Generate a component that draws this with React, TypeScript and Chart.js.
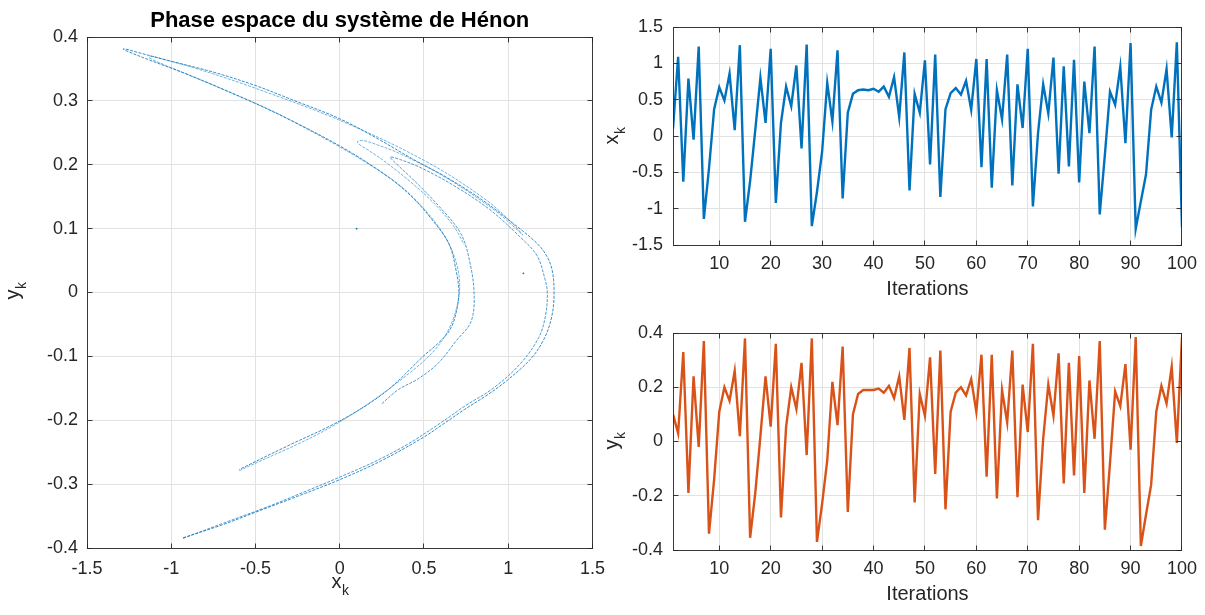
import { useEffect, useRef } from 'react';
import { Chart, registerables } from 'chart.js';

Chart.register(...registerables);

const FONT = '"Liberation Sans", Arial, Helvetica, sans-serif';
const TEXT = '#262626';
const GRID = '#e2e2e2';
const BLUE = '#0072BD';
const ORANGE = '#D95319';

// ---- Data ----
const iterations: number[] = Array.from({ length: 100 }, (_, i) => i + 1);

const xk: number[] = [
  0.1, 1.09, -0.63, 0.79, -0.05, 1.23, -1.14, -0.45, 0.37, 0.67,
  0.49, 0.86, 0.08, 1.25, -1.18, -0.62, 0.08, 0.8, 0.18, 1.2,
  -0.92, 0.18, 0.68, 0.41, 0.97, -0.17, 1.26, -1.24, -0.77, -0.22,
  0.73, 0.2, 1.18, -0.86, 0.32, 0.58, 0.63, 0.64, 0.63, 0.65,
  0.61, 0.68, 0.54, 0.81, 0.26, 1.15, -0.75, 0.58, 0.32, 1.04,
  -0.39, 1.12, -0.84, 0.37, 0.59, 0.66, 0.57, 0.76, 0.36, 1.06,
  -0.43, 1.06, -0.71, 0.63, 0.23, 1.12, -0.68, 0.71, 0.11, 1.2,
  -0.97, 0.04, 0.71, 0.31, 1.08, -0.52, 0.96, -0.42, 1.05, -0.64,
  0.75, 0.04, 1.23, -1.08, -0.26, 0.61, 0.43, 0.95, -0.1, 1.28,
  -1.28, -0.9, -0.53, 0.36, 0.68, 0.46, 0.92, -0.02, 1.29, -1.26,
];

const yk: number[] = [
  0.1, 0.03, 0.33, -0.19, 0.24, -0.02, 0.37, -0.34, -0.14, 0.11,
  0.2, 0.15, 0.26, 0.02, 0.38, -0.355, -0.19, 0.02, 0.24, 0.055,
  0.36, -0.28, 0.055, 0.2, 0.12, 0.29, -0.05, 0.38, -0.37, -0.23,
  -0.07, 0.22, 0.06, 0.35, -0.26, 0.1, 0.175, 0.19, 0.19, 0.19,
  0.195, 0.18, 0.205, 0.16, 0.24, 0.08, 0.345, -0.225, 0.175, 0.095,
  0.31, -0.12, 0.335, -0.25, 0.11, 0.18, 0.2, 0.17, 0.23, 0.11,
  0.32, -0.13, 0.32, -0.21, 0.19, 0.07, 0.335, -0.205, 0.21, 0.035,
  0.36, -0.29, 0.01, 0.21, 0.095, 0.325, -0.155, 0.29, -0.125, 0.315,
  -0.19, 0.225, 0.01, 0.37, -0.325, -0.08, 0.185, 0.13, 0.285, -0.03,
  0.385, -0.385, -0.27, -0.16, 0.11, 0.205, 0.14, 0.275, -0.005, 0.385,
];

// Strands of the attractor
const strandOuter: [number, number][] = [
  [-0.93, -0.384], [-0.7, -0.364], [-0.5, -0.344], [-0.25, -0.319], [0, -0.293],
  [0.25, -0.263], [0.495, -0.227], [0.603, -0.208], [0.741, -0.183], [0.878, -0.16],
  [0.996, -0.137], [1.133, -0.104], [1.212, -0.073], [1.258, -0.038], [1.272, 0],
  [1.258, 0.038], [1.212, 0.064], [1.15, 0.082], [1.035, 0.107], [0.84, 0.146],
  [0.623, 0.182], [0.426, 0.21], [0.23, 0.24], [0, 0.272], [-0.285, 0.302],
  [-0.5, 0.324], [-0.75, 0.345], [-1.0, 0.362], [-1.2, 0.376], [-1.27, 0.381],
  [-1.286, 0.381], [-1.254, 0.377], [-1.13, 0.364], [-0.9, 0.341], [-0.527, 0.299],
  [-0.24, 0.263], [0.049, 0.222], [0.287, 0.181], [0.431, 0.149], [0.56, 0.11],
  [0.65, 0.075], [0.69, 0.035], [0.707, 0], [0.685, -0.038], [0.65, -0.06],
  [0.594, -0.077], [0.495, -0.1], [0.306, -0.148], [0.15, -0.178], [-0.05, -0.208],
  [-0.3, -0.239], [-0.596, -0.277],
];

const strandInner: [number, number][] = [
  [-0.93, -0.385], [-0.7, -0.362], [-0.424, -0.335], [-0.2, -0.311], [0, -0.289],
  [0.206, -0.265], [0.4, -0.238], [0.6, -0.204], [0.741, -0.178], [0.91, -0.15],
  [1.07, -0.112], [1.182, -0.07], [1.222, -0.035], [1.232, 0], [1.219, 0.02],
  [1.17, 0.058], [1.066, 0.088], [0.889, 0.13], [0.68, 0.167], [0.4835, 0.195],
  [0.36, 0.208], [0.3, 0.212], [0.33, 0.203], [0.431, 0.178], [0.6, 0.132],
  [0.719, 0.092], [0.77, 0.05], [0.797, 0], [0.78, -0.045], [0.69, -0.076],
  [0.583, -0.111], [0.466, -0.135], [0.348, -0.152], [0.25, -0.174],
];

const strandThird: [number, number][] = [
  [-0.596, -0.279], [-0.048, -0.21], [0.41, -0.127], [0.62, -0.07], [0.71, 0],
  [0.672, 0.062], [0.536, 0.12], [0.294, 0.18], [-0.316, 0.273], [-0.718, 0.321],
  [-1.028, 0.355], [-1.131, 0.3675], [-1.125, 0.37], [-1.06, 0.366], [-0.856, 0.351],
  [-0.503, 0.32], [0.023, 0.267], [0.52, 0.204], [0.868, 0.145], [1.0365, 0.105],
  [1.086, 0.09], [1.05, 0.099], [0.918, 0.129], [0.629, 0.18], [0.368, 0.216],
  [0.215, 0.232], [0.135, 0.238], [0.105, 0.236], [0.125, 0.23], [0.1625, 0.224],
  [0.2575, 0.207], [0.412, 0.175], [0.558, 0.14], [0.6755, 0.104], [0.7385, 0.075],
];

// only the first (transient) iterates stand apart from the attractor in the picture
const transientCount = 2;

const phaseXTicks = [-1.5, -1, -0.5, 0, 0.5, 1, 1.5];
const phaseYTicks = [-0.4, -0.3, -0.2, -0.1, 0, 0.1, 0.2, 0.3, 0.4];
const iterTicks = [10, 20, 30, 40, 50, 60, 70, 80, 90, 100];
const xkTicks = [-1.5, -1, -0.5, 0, 0.5, 1, 1.5];
const ykTicks = [-0.4, -0.2, 0, 0.2, 0.4];

// ---- helpers ----
const fmt = (v: number) => String(Math.round(v * 100) / 100);
const al = (p: number) => Math.round(p - 0.5) + 0.5;

const framePlugin = {
  id: 'matlabFrame',
  afterDraw(chart: any) {
    const { ctx, chartArea: a, scales } = chart;
    const x = scales.x;
    const y = scales.y;
    ctx.save();
    ctx.strokeStyle = 'rgba(38,38,38,0.9)';
    ctx.lineWidth = 1;
    const L = al(a.left), R = al(a.right), T = al(a.top), B = al(a.bottom);
    ctx.strokeRect(L, T, R - L, B - T);
    const len = 5;
    ctx.beginPath();
    for (const t of x.ticks) {
      const px = al(x.getPixelForValue(t.value));
      ctx.moveTo(px, B); ctx.lineTo(px, B - len);
      ctx.moveTo(px, T); ctx.lineTo(px, T + len);
    }
    for (const t of y.ticks) {
      const py = al(y.getPixelForValue(t.value));
      ctx.moveTo(L, py); ctx.lineTo(L + len, py);
      ctx.moveTo(R, py); ctx.lineTo(R - len, py);
    }
    ctx.stroke();
    ctx.restore();
  },
};

type SubLabel = { base: string; sub: string; x: number; y: number; rotate?: boolean };

function subLabels(items: SubLabel[]) {
  return {
    id: 'subLabels',
    afterDraw(chart: any) {
      const ctx = chart.ctx as CanvasRenderingContext2D;
      for (const it of items) {
        ctx.save();
        ctx.fillStyle = TEXT;
        ctx.textBaseline = 'alphabetic';
        ctx.textAlign = 'left';
        const mainF = `20px ${FONT}`;
        const subF = `14px ${FONT}`;
        ctx.font = mainF;
        const w1 = ctx.measureText(it.base).width;
        ctx.font = subF;
        const w2 = ctx.measureText(it.sub).width;
        ctx.translate(it.x, it.y);
        if (it.rotate) ctx.rotate(-Math.PI / 2);
        const start = -(w1 + w2) / 2;
        ctx.font = mainF;
        ctx.fillText(it.base, start, 0);
        ctx.font = subF;
        ctx.fillText(it.sub, start + w1 + 0.5, 7);
        ctx.restore();
      }
    },
  };
}

function axis(min: number, max: number, ticks: number[], size: number, horizontal: boolean, pad: number, extra: any = {}) {
  return {
    type: 'linear',
    min,
    max,
    afterBuildTicks: (s: any) => {
      s.ticks = ticks.map((v) => ({ value: v }));
    },
    afterFit: (s: any) => {
      if (horizontal) s.height = size;
      else s.width = size;
    },
    grid: { color: GRID, lineWidth: 1, drawTicks: false },
    border: { display: false },
    ticks: {
      font: { family: FONT, size: 18 },
      color: TEXT,
      padding: pad,
      autoSkip: false,
      maxRotation: 0,
      minRotation: 0,
      callback: (v: number) => fmt(v),
    },
    ...extra,
  };
}

function strandSet(points: [number, number][], alpha: number) {
  return {
    data: points.map(([x, y]) => ({ x, y })),
    showLine: true,
    borderColor: `rgba(0,114,189,${alpha})`,
    borderWidth: 1,
    borderDash: [3, 1.3],
    pointRadius: 0,
    tension: 0.35,
    fill: false,
  };
}

function phaseConfig(): any {
  return {
    type: 'scatter',
    data: {
      datasets: [
        strandSet(strandOuter, 0.8),
        strandSet(strandInner, 0.7),
        strandSet(strandThird, 0.55),
        {
          data: xk.slice(0, transientCount).map((v, i) => ({ x: v, y: yk[i] })),
          showLine: false,
          pointRadius: 0.9,
          pointBorderWidth: 0,
          backgroundColor: BLUE,
        },
      ],
    },
    options: {
      animation: false,
      responsive: false,
      devicePixelRatio: 1,
      layout: { padding: { left: 0, right: 19, top: 0, bottom: 0 } },
      plugins: {
        legend: { display: false },
        tooltip: { enabled: false },
        title: {
          display: true,
          text: 'Phase espace du système de Hénon',
          color: '#000000',
          font: { family: FONT, size: 22, weight: 'bold' },
          padding: { top: 8, bottom: 2.6 },
          fullSize: false,
        },
      },
      scales: {
        x: axis(-1.5, 1.5, phaseXTicks, 67, true, 10),
        y: axis(-0.4, 0.4, phaseYTicks, 87, false, 9),
      },
    },
    plugins: [
      framePlugin,
      subLabels([
        { base: 'x', sub: 'k', x: 340, y: 588 },
        { base: 'y', sub: 'k', x: 18.5, y: 291, rotate: true },
      ]),
    ],
  };
}

function seriesConfig(values: number[], color: string, yMin: number, yMax: number, yTicks: number[], xAxisH: number, padTop: number, titlePadB: number, yName: string): any {
  return {
    type: 'scatter',
    data: {
      datasets: [
        {
          data: iterations.map((k, i) => ({ x: k, y: values[i] })),
          showLine: true,
          borderColor: color,
          borderWidth: 2.4,
          pointRadius: 0,
          tension: 0,
          fill: false,
        },
      ],
    },
    options: {
      animation: false,
      responsive: false,
      devicePixelRatio: 1,
      layout: { padding: { left: 0, right: 23, top: padTop, bottom: 0 } },
      plugins: { legend: { display: false }, tooltip: { enabled: false }, title: { display: false } },
      scales: {
        x: axis(1, 100, iterTicks, xAxisH, true, 8, {
          title: {
            display: true,
            text: 'Iterations',
            color: TEXT,
            font: { family: FONT, size: 20 },
            padding: { top: 0, bottom: titlePadB },
          },
        }),
        y: axis(yMin, yMax, yTicks, 83, false, 10),
      },
    },
    plugins: [
      framePlugin,
      subLabels([{ base: yName, sub: 'k', x: 28, y: 136, rotate: true }]),
    ],
  };
}

export default function App() {
  const leftRef = useRef<HTMLCanvasElement>(null);
  const topRef = useRef<HTMLCanvasElement>(null);
  const botRef = useRef<HTMLCanvasElement>(null);

  useEffect(() => {
    document.body.style.margin = '0';
    const charts = [
      new Chart(leftRef.current as HTMLCanvasElement, phaseConfig()),
      new Chart(topRef.current as HTMLCanvasElement, seriesConfig(xk, BLUE, -1.5, 1.5, xkTicks, 60, 27, 4, 'x')),
      new Chart(botRef.current as HTMLCanvasElement, seriesConfig(yk, ORANGE, -0.4, 0.4, ykTicks, 65, 28, 9, 'y')),
    ];
    return () => charts.forEach((c) => c.destroy());
  }, []);

  return (
    <div style={{ position: 'relative', width: 1205, height: 615, background: '#ffffff', overflow: 'hidden' }}>
      <canvas ref={leftRef} width={615} height={615} style={{ position: 'absolute', left: 0, top: 0, width: 615, height: 615 }} />
      <canvas ref={topRef} width={615} height={305} style={{ position: 'absolute', left: 590, top: 0, width: 615, height: 305 }} />
      <canvas ref={botRef} width={615} height={310} style={{ position: 'absolute', left: 590, top: 305, width: 615, height: 310 }} />
    </div>
  );
}
